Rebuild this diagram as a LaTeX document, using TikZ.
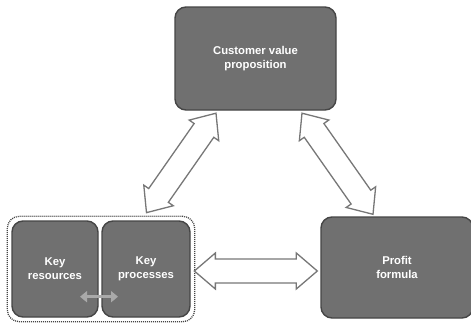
\documentclass[tikz,border=0pt]{standalone}
\usepackage{fontspec}
\setmainfont{Liberation Sans}
\usetikzlibrary{calc,fit,arrows.meta}
\definecolor{boxfill}{HTML}{707070}
\definecolor{boxline}{HTML}{454545}
\definecolor{arrowgray}{HTML}{777777}
\definecolor{dotgray}{HTML}{444444}
\definecolor{smallgray}{HTML}{A9A9A9}
\newcommand\dblarrow[2]{%
  \coordinate (ha) at ($(#1)!21pt!(#2)$);
  \coordinate (hb) at ($(#2)!21pt!(#1)$);
  \draw[bigarrow] (#1) -- ($(ha)!18pt!90:(#2)$) -- ($(ha)!12pt!90:(#2)$)
    -- ($(hb)!12pt!-90:(#1)$) -- ($(hb)!18pt!-90:(#1)$) -- (#2)
    -- ($(hb)!18pt!90:(#1)$) -- ($(hb)!12pt!90:(#1)$)
    -- ($(ha)!12pt!-90:(#2)$) -- ($(ha)!18pt!-90:(#2)$) -- cycle;}
\begin{document}
\begin{tikzpicture}[x=1pt,y=-1pt,
  box/.style={draw=boxline, fill=boxfill, line width=1.4pt, rounded corners=11pt,
    text=white, font=\fontsize{11.3}{14}\selectfont\bfseries, align=center, inner sep=0pt},
  bigarrow/.style={draw=arrowgray, line width=1.3pt, fill=white, line join=miter},
  smallarrow/.style={draw=smallgray, line width=3.5pt,
    {Triangle[length=7pt,width=11pt]}-{Triangle[length=7pt,width=11pt]}},
  groupframe/.style={draw=dotgray, line width=1.3pt, dash pattern=on 1pt off 1pt,
    rounded corners=12pt, inner sep=4pt}]
\useasboundingbox (0,0) rectangle (471,324);
\node[box, minimum width=161pt, minimum height=103pt] (cvp) at (255.5,58.5) {Customer value\\proposition};
\node[box, minimum width=86pt, minimum height=96pt] (kr) at (55,269) {Key\\resources};
\node[box, minimum width=88pt, minimum height=96pt] (kp) at (146,269) {Key\\processes};
\node[box, minimum width=152pt, minimum height=101pt] (pf) at (397,267.5) {Profit\\formula};
\node[groupframe, fit=(kr)(kp)] (grp) {};
\coordinate (l1) at ($(cvp.south)+(-39.5,2.5)$);
\coordinate (l2) at ($(grp.north)+(45.5,-3)$);
\coordinate (r1) at ($(cvp.south)+(46.5,2.5)$);
\coordinate (r2) at ($(pf.north)+(-24,-2)$);
\coordinate (h1) at ($(grp.east)+(-1,2)$);
\coordinate (h2) at ($(pf.west)+(-3,3.5)$);
\dblarrow{l1}{l2}
\dblarrow{r1}{r2}
\dblarrow{h1}{h2}
\coordinate (s1) at ($(kr.south)+(25,-21)$);
\coordinate (s2) at ($(kp.south)+(-28,-21)$);
\draw[smallarrow] (s1) -- (s2);
\end{tikzpicture}
\end{document}
